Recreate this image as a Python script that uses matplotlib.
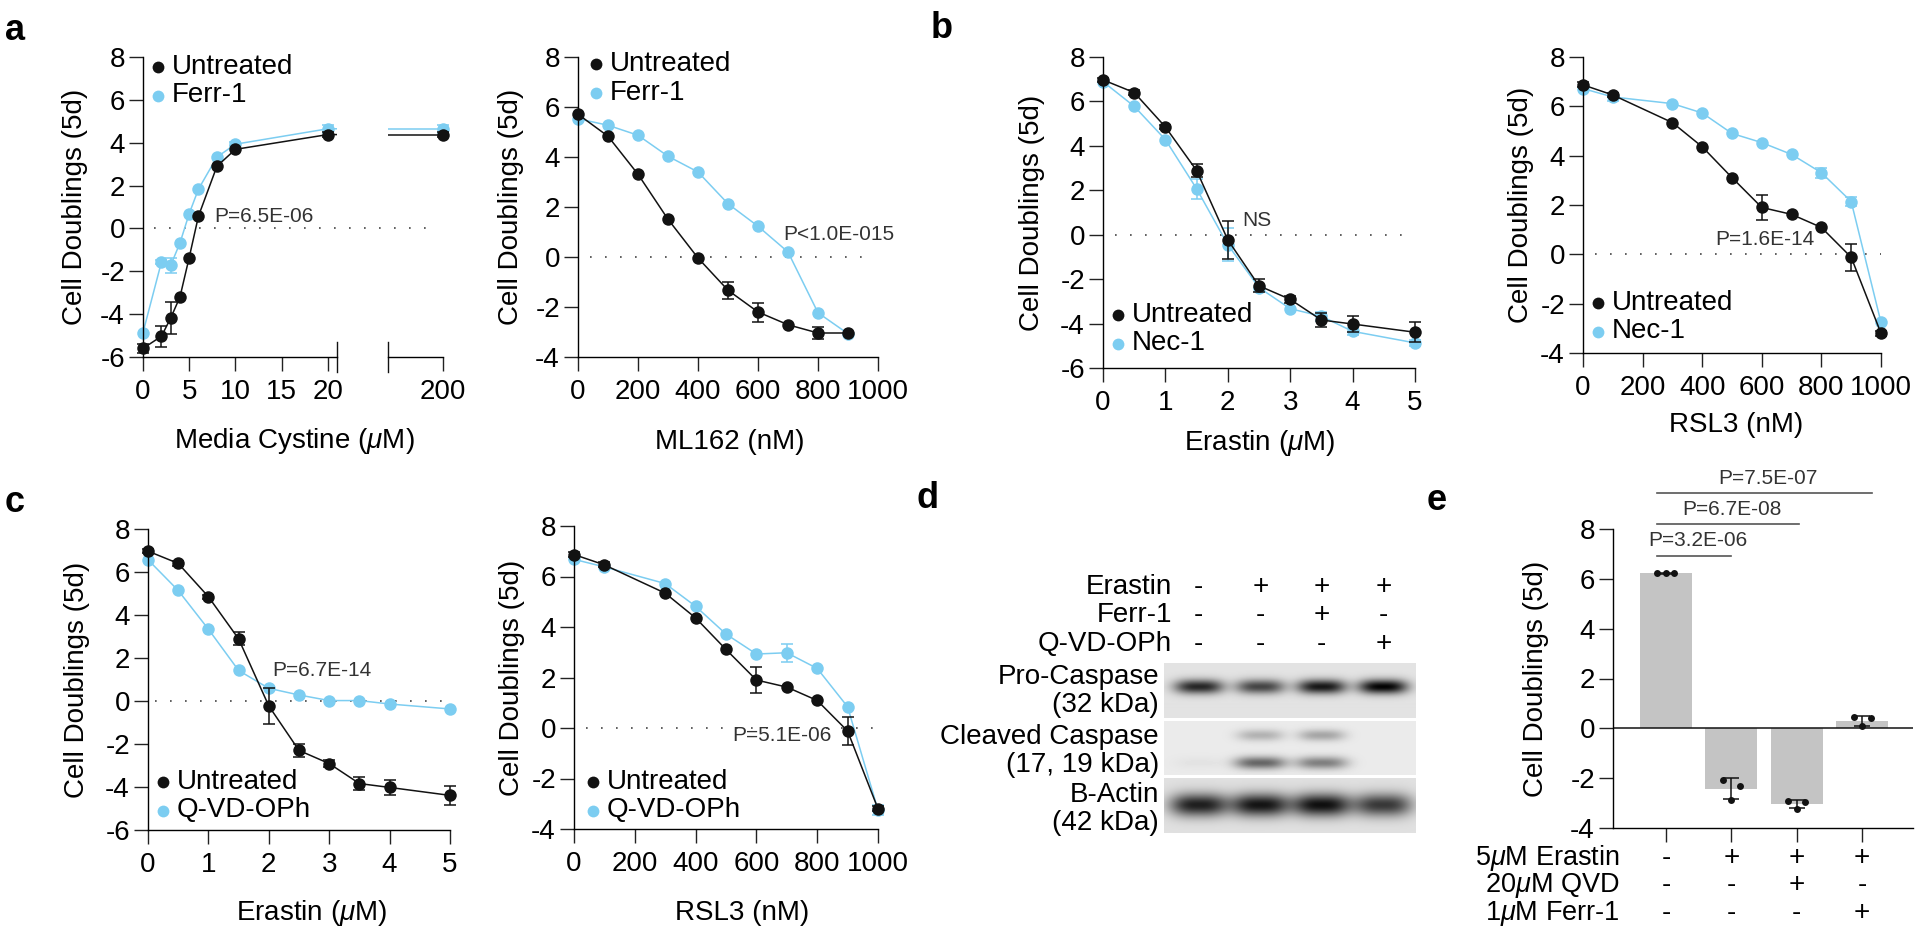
import numpy as np
import matplotlib
matplotlib.use('Agg')
import matplotlib.pyplot as plt
import matplotlib.transforms as mtransforms
from matplotlib.lines import Line2D

plt.rcParams['font.family'] = ['Liberation Sans', 'DejaVu Sans']
plt.rcParams['mathtext.fontset'] = 'custom'
plt.rcParams['mathtext.rm'] = 'Liberation Sans'
plt.rcParams['mathtext.it'] = 'Liberation Sans:italic'
plt.rcParams['axes.unicode_minus'] = False
plt.rcParams['axes.linewidth'] = 1.0

W, H = 1920, 934
BLACK = '#121212'
CYAN = '#7ccdf1'
GREY = '#c4c4c4'
PTXT = '#333333'

# ---------------- data ----------------
# a (left): media cystine
cys_x = [0, 2, 3, 4, 5, 6, 8, 10, 20, 200]
cys_untr = [-5.6, -5.03, -4.18, -3.2, -1.36, 0.57, 2.9, 3.69, 4.38, 4.38]
cys_untr_err = [0.2, 0.5, 0.75, 0, 0, 0, 0, 0, 0.1, 0.1]
cys_ferr = [-4.86, -1.56, -1.72, -0.68, 0.69, 1.83, 3.33, 3.93, 4.65, 4.65]
cys_ferr_err = [0, 0.1, 0.35, 0, 0, 0, 0, 0.1, 0.2, 0.2]

# a (right): ML162
ml_x = [0, 100, 200, 300, 400, 500, 600, 700, 800, 900]
ml_untr = [5.71, 4.83, 3.31, 1.51, -0.04, -1.33, -2.2, -2.71, -3.04, -3.04]
ml_untr_err = [0, 0, 0, 0, 0, 0.35, 0.38, 0, 0.25, 0]
ml_ferr = [5.53, 5.27, 4.87, 4.03, 3.4, 2.13, 1.23, 0.2, -2.23, -3.07]
ml_ferr_err = [0, 0, 0, 0, 0, 0, 0, 0, 0, 0]

# b/c (left): erastin
er_x = [0, 0.5, 1, 1.5, 2, 2.5, 3, 3.5, 4, 5]
er_untr = [6.97, 6.4, 4.85, 2.89, -0.23, -2.3, -2.91, -3.84, -4.02, -4.39]
er_untr_err = [0.1, 0.1, 0.1, 0.3, 0.85, 0.3, 0.15, 0.3, 0.35, 0.45]
er_nec = [6.89, 5.78, 4.28, 2.07, -0.45, -2.38, -3.33, -3.67, -4.35, -4.87]
er_nec_err = [0, 0, 0, 0.45, 0.75, 0, 0, 0.2, 0.15, 0.15]
er_qvd = [6.57, 5.14, 3.34, 1.42, 0.59, 0.28, 0.02, 0.02, -0.14, -0.37]
er_qvd_err = [0, 0, 0, 0, 0, 0, 0, 0, 0, 0]

# b/c (right): RSL3
rsl_x = [0, 100, 300, 400, 500, 600, 700, 800, 900, 1000]
rsl_untr = [6.87, 6.46, 5.34, 4.36, 3.11, 1.9, 1.62, 1.09, -0.12, -3.2]
rsl_untr_err = [0.1, 0.1, 0, 0, 0, 0.5, 0, 0, 0.55, 0.1]
rsl_nec = [6.72, 6.38, 6.11, 5.73, 4.9, 4.53, 4.05, 3.31, 2.14, -2.76]
rsl_nec_err = [0, 0.15, 0, 0, 0, 0, 0, 0.2, 0.2, 0]
rsl_qvd = [6.68, 6.38, 5.72, 4.82, 3.72, 2.93, 2.98, 2.36, 0.84, -3.25]
rsl_qvd_err = [0, 0, 0, 0, 0, 0, 0.35, 0, 0, 0.2]

# d: western blot band darkness per lane
blot_header = ['Erastin', 'Ferr-1', 'Q-VD-OPh']
blot_signs = [['-', '+', '+', '+'], ['-', '-', '+', '-'], ['-', '-', '-', '+']]
pro_casp = [0.74, 0.62, 0.80, 0.88]
cleaved_19 = [0.0, 0.22, 0.27, 0.0]
cleaved_17 = [0.03, 0.52, 0.42, 0.0]
b_actin = [0.76, 0.80, 0.82, 0.66]

# e: bar chart replicates
e_reps = [[6.22, 6.22, 6.25], [-2.09, -2.3, -2.89], [-2.93, -2.96, -3.22], [0.44, 0.41, 0.08]]
e_rows = [r'5$\mu$M Erastin', r'20$\mu$M QVD', r'1$\mu$M Ferr-1']
e_signs = [['-', '+', '+', '+'], ['-', '-', '+', '-'], ['-', '-', '-', '+']]
e_pvals = ['P=3.2E-06', 'P=6.7E-08', 'P=7.5E-07']

# ---------------- helpers ----------------
fig = plt.figure(figsize=(W / 100, H / 100), dpi=100)


def fx(x):
    return x / W


def fy(y):
    return 1 - y / H


def add_ax(l, t, r, b):
    return fig.add_axes([l / W, 1 - b / H, (r - l) / W, (b - t) / H])


def style(ax, xticks, yticks, xlim, ylim):
    ax.set_xlim(xlim)
    ax.set_ylim(ylim)
    ax.set_xticks(xticks)
    ax.set_yticks(yticks)
    ax.spines[['top', 'right']].set_visible(False)
    ax.tick_params(direction='out', length=10, width=1.0, labelsize=20, color='#222222')
    ax.tick_params(axis='x', pad=6)
    ax.tick_params(axis='y', pad=3)
    ax.patch.set_alpha(0)


def series(ax, x, y, err, color, z, line=True):
    x = np.asarray(x, float)
    y = np.asarray(y, float)
    err = np.asarray(err, float)
    if line:
        ax.plot(x, y, color=color, lw=1.1, zorder=z, clip_on=False)
    m = err > 0
    if m.any():
        eb = ax.errorbar(x[m], y[m], yerr=err[m], fmt='none', ecolor=color,
                         elinewidth=1.1, capsize=4.5, capthick=1.1, zorder=z)
        for art in eb.get_children():
            art.set_clip_on(False)
    ax.plot(x, y, 'o', color=color, ms=9, mew=0, zorder=z + 0.5, clip_on=False)


def zero_line(ax, x0, x1):
    ax.plot([x0, x1], [0, 0], ls=(0, (1, 8)), color='#444444', lw=1.2, zorder=0, clip_on=False)


def ylab(ax, text, xpx):
    ax.set_ylabel(text, fontsize=20, va='center')
    pos = ax.get_position()
    ax.yaxis.set_label_coords(fx(xpx), pos.y0 + pos.height / 2, transform=fig.transFigure)


def xlab(ax, text, xpx, ypx):
    ax.set_xlabel(text, fontsize=20, va='center')
    ax.xaxis.set_label_coords(fx(xpx), fy(ypx), transform=fig.transFigure)


def legend_rows(entries, hx, y0, dy=28.5):
    for i, (lab, col) in enumerate(entries):
        y = y0 + i * dy
        fig.add_artist(Line2D([fx(hx)], [fy(y)], marker='o', ms=8.5, mew=0, color=col,
                              transform=fig.transFigure))
        fig.text(fx(hx + 14), fy(y), lab, fontsize=20, va='center', ha='left')


def ptext(ax, x, y, s):
    ax.text(x, y, s, fontsize=15, color=PTXT, ha='left', va='center')


def letter(xpx, ypx, s):
    fig.text(fx(xpx), fy(ypx), s, fontsize=26, fontweight='bold', ha='center', va='center')


yt14 = list(range(-6, 9, 2))
yt12 = list(range(-4, 9, 2))

# ---------------- a left: broken x axis ----------------
a1 = add_ax(143, 57, 337, 357)
a1b = add_ax(388, 57, 443, 357)
style(a1, [0, 5, 10, 15, 20], yt14, (0, 21), (-6, 8))
style(a1b, [200], [], (194, 200), (-6, 8))
a1b.spines['left'].set_visible(False)
a1b.tick_params(axis='y', left=False)
for ax in (a1, a1b):
    ax.plot(cys_x, cys_ferr, color=CYAN, lw=1.1, zorder=2)
    ax.plot(cys_x, cys_untr, color=BLACK, lw=1.1, zorder=3)
series(a1, cys_x[:-1], cys_ferr[:-1], cys_ferr_err[:-1], CYAN, 2, line=False)
series(a1, cys_x[:-1], cys_untr[:-1], cys_untr_err[:-1], BLACK, 3, line=False)
series(a1b, cys_x[-1:], cys_ferr[-1:], cys_ferr_err[-1:], CYAN, 2, line=False)
series(a1b, cys_x[-1:], cys_untr[-1:], cys_untr_err[-1:], BLACK, 3, line=False)
for ax, xa in ((a1, 1), (a1b, 0)):
    ax.plot([xa, xa], [-0.05, 0.05], transform=ax.transAxes, color=BLACK, lw=1.0, clip_on=False)
zero_line(a1, 1.2, 31.2)
ptext(a1, 7.7, 0.55, 'P=6.5E-06')
ylab(a1, 'Cell Doublings (5d)', 75)
xlab(a1, r'Media Cystine ($\mu$M)', 294, 441)
legend_rows([('Untreated', BLACK), ('Ferr-1', CYAN)], 158, 67)

# ---------------- a right: ML162 ----------------
a2 = add_ax(578, 57, 878, 357)
style(a2, list(range(0, 1001, 200)), yt12, (0, 1000), (-4, 8))
series(a2, ml_x, ml_ferr, ml_ferr_err, CYAN, 2)
series(a2, ml_x, ml_untr, ml_untr_err, BLACK, 3)
zero_line(a2, 40, 962)
ptext(a2, 683, 0.92, 'P<1.0E-015')
ylab(a2, 'Cell Doublings (5d)', 511)
xlab(a2, 'ML162 (nM)', 730, 442)
legend_rows([('Untreated', BLACK), ('Ferr-1', CYAN)], 596, 64)

# ---------------- b left: erastin + Nec-1 ----------------
b1 = add_ax(1103, 57, 1415, 368)
style(b1, [0, 1, 2, 3, 4, 5], yt14, (0, 5), (-6, 8))
series(b1, er_x, er_nec, er_nec_err, CYAN, 2)
series(b1, er_x, er_untr, er_untr_err, BLACK, 3)
zero_line(b1, 0.19, 4.81)
ptext(b1, 2.23, 0.62, 'NS')
ylab(b1, 'Cell Doublings (5d)', 1032)
xlab(b1, r'Erastin ($\mu$M)', 1260, 443)
legend_rows([('Untreated', BLACK), ('Nec-1', CYAN)], 1118, 315)

# ---------------- b right: RSL3 + Nec-1 ----------------
b2 = add_ax(1583, 57, 1881, 353)
style(b2, list(range(0, 1001, 200)), yt12, (0, 1000), (-4, 8))
series(b2, rsl_x, rsl_nec, rsl_nec_err, CYAN, 2)
series(b2, rsl_x, rsl_untr, rsl_untr_err, BLACK, 3)
zero_line(b2, 40, 1000)
ptext(b2, 444, 0.6, 'P=1.6E-14')
ylab(b2, 'Cell Doublings (5d)', 1521)
xlab(b2, 'RSL3 (nM)', 1736, 425)
legend_rows([('Untreated', BLACK), ('Nec-1', CYAN)], 1598, 303)

# ---------------- c left: erastin + Q-VD-OPh ----------------
c1 = add_ax(148, 529, 450, 830)
style(c1, [0, 1, 2, 3, 4, 5], yt14, (0, 5), (-6, 8))
series(c1, er_x, er_qvd, er_qvd_err, CYAN, 2)
series(c1, er_x, er_untr, er_untr_err, BLACK, 3)
zero_line(c1, 0.11, 4.94)
ptext(c1, 2.05, 1.4, 'P=6.7E-14')
ylab(c1, 'Cell Doublings (5d)', 77)
xlab(c1, r'Erastin ($\mu$M)', 312, 913)
legend_rows([('Untreated', BLACK), ('Q-VD-OPh', CYAN)], 163, 782)

# ---------------- c right: RSL3 + Q-VD-OPh ----------------
c2 = add_ax(574, 526, 878, 829)
style(c2, list(range(0, 1001, 200)), yt12, (0, 1000), (-4, 8))
series(c2, rsl_x, rsl_qvd, rsl_qvd_err, CYAN, 2)
series(c2, rsl_x, rsl_untr, rsl_untr_err, BLACK, 3)
zero_line(c2, 41, 1000)
ptext(c2, 520, -0.28, 'P=5.1E-06')
ylab(c2, 'Cell Doublings (5d)', 512)
xlab(c2, 'RSL3 (nM)', 742, 913)
legend_rows([('Untreated', BLACK), ('Q-VD-OPh', CYAN)], 593, 782)

# ---------------- d: western blot ----------------
BX0, BX1 = -0.565, 3.53


def strip(top, bottom, bands, bg):
    ax = add_ax(1164, top, 1416, bottom)
    xs = np.linspace(BX0, BX1, 252)
    ys = np.linspace(0, 1, bottom - top)
    img = np.full((len(ys), len(xs)), bg)
    for levels, yc, hh, hw in bands:
        for lane, lev in enumerate(levels):
            px = np.exp(-(np.abs(xs - lane) / hw) ** 3)
            py = np.exp(-((ys - yc) / hh) ** 2)
            img -= lev * np.outer(py, px)
    ax.imshow(np.clip(img, 0, 1), cmap='gray', vmin=0, vmax=1, extent=(BX0, BX1, 1, 0),
              aspect='auto', interpolation='bilinear')
    ax.set_xlim(BX0, BX1)
    ax.set_axis_off()
    return ax


s1 = strip(663, 718, [(pro_casp, 0.44, 0.13, 0.4)], 0.89)
s2 = strip(721, 775, [(cleaved_19, 0.26, 0.11, 0.38), (cleaved_17, 0.78, 0.12, 0.42)], 0.92)
s3 = strip(778, 833, [(b_actin, 0.49, 0.21, 0.47)], 0.88)

btr = mtransforms.blended_transform_factory(s1.transData, fig.transFigure)
for r, (name, signs) in enumerate(zip(blot_header, blot_signs)):
    ypx = 587 + r * 28.5
    fig.text(fx(1172), fy(ypx), name, fontsize=20, ha='right', va='center')
    for lane, sg in enumerate(signs):
        fig.text(lane, fy(ypx), sg, fontsize=20, ha='center', va='center', transform=btr)

for txt, ypx in [('Pro-Caspase', 677), ('(32 kDa)', 705), ('Cleaved Caspase', 737),
                 ('(17, 19 kDa)', 765), ('B-Actin', 795), ('(42 kDa)', 823)]:
    fig.text(fx(1159), fy(ypx), txt, fontsize=20, ha='right', va='center')

# ---------------- e: bars ----------------
e = add_ax(1613, 529, 1913, 828)
style(e, [0, 1, 2, 3], yt12, (-0.81, 3.78), (-4, 8))
e.set_xticklabels([])
e.axhline(0, color=BLACK, lw=1.1, zorder=2)
pos = np.arange(len(e_reps))
means = [np.mean(r) for r in e_reps]
sds = [np.std(r, ddof=1) for r in e_reps]
e.bar(pos, means, width=0.8, color=GREY, zorder=1)
e.errorbar(pos, means, yerr=sds, fmt='none', ecolor=BLACK, elinewidth=1.1,
           capsize=6, capthick=1.1, zorder=3)
jit = np.array([-0.13, 0.13, 0.0])
for i, reps in enumerate(e_reps):
    e.plot(i + jit, reps, 'o', ms=5, mew=0, color=BLACK, zorder=4, clip_on=False)

bracket_ends = [1.0, 2.04, 3.16]
bracket_y = [6.93, 8.2, 9.44]
for xe, yb, pv in zip(bracket_ends, bracket_y, e_pvals):
    e.plot([-0.13, xe], [yb, yb], color='#555555', lw=1.2, clip_on=False)
    e.text((-0.13 + xe) / 2 + 0.05, yb + 0.6, pv, fontsize=15, color=PTXT,
           ha='center', va='center', clip_on=False)

etr = mtransforms.blended_transform_factory(e.transData, fig.transFigure)
for r, (name, signs) in enumerate(zip(e_rows, e_signs)):
    ypx = 858 + r * 27.5
    fig.text(fx(1620), fy(ypx), name, fontsize=19.5, ha='right', va='center')
    for i, sg in enumerate(signs):
        fig.text(i, fy(ypx), sg, fontsize=20, ha='center', va='center', transform=etr)
ylab(e, 'Cell Doublings (5d)', 1536)

# ---------------- panel letters ----------------
letter(15, 30, 'a')
letter(942, 28, 'b')
letter(15, 503, 'c')
letter(928, 498, 'd')
letter(1437, 500, 'e')

fig.savefig('out.png', dpi=100)
